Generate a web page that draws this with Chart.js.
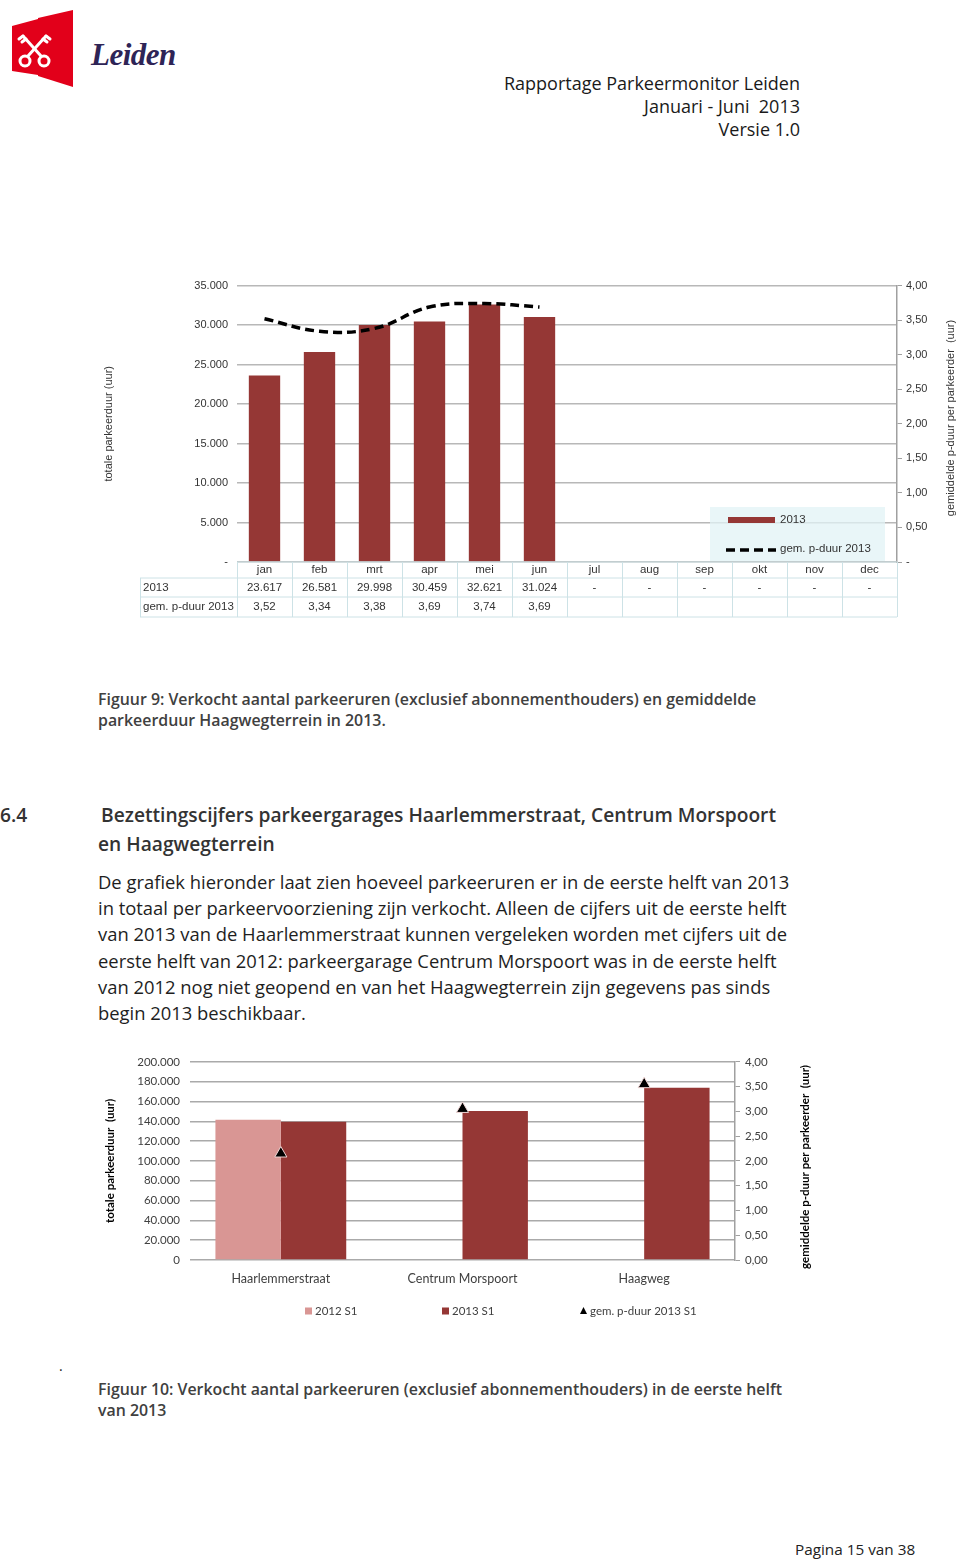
<!DOCTYPE html>
<html lang="nl">
<head>
<meta charset="utf-8">
<title>Rapportage Parkeermonitor Leiden</title>
<script src="https://cdn.jsdelivr.net/npm/chart.js@4.4.1/dist/chart.umd.min.js"></script>
<style>
  html, body { margin: 0; padding: 0; background: #fff; }
  body { width: 960px; height: 1560px; position: relative; overflow: hidden; font-family: "Open Sans", sans-serif; color: #222; }
  .abs { position: absolute; white-space: nowrap; }
  .header { right: 160px; text-align: right; font-size: 18px; line-height: 23px; top: 72px; color: #1a1a1a; }
  .caption { left: 98px; font-size: 15.9px; line-height: 21px; font-weight: 600; color: #404040; }
  .heading { font-size: 19.2px; font-weight: 600; color: #333; }
  .para { left: 98px; top: 869px; font-size: 18.4px; line-height: 26.2px; color: #1e1e1e; }
  #wrap1 { position: absolute; left: 100px; top: 270px; width: 860px; height: 355px; }
  #wrap2 { position: absolute; left: 95px; top: 1045px; width: 730px; height: 285px; }
</style>
</head>
<body>

<svg class="abs" style="left:0;top:0" width="190" height="95">
  <polygon points="12,26 38,19 38,75 12,71" fill="#e2001a"/>
  <polygon points="38,18 73,10 73,87 38,76" fill="#e2001a"/>
  <g stroke="#fff" stroke-width="3" fill="none" stroke-linecap="round">
    <line x1="28" y1="56" x2="46" y2="36"/>
    <line x1="41" y1="56" x2="23" y2="36"/>
    <circle cx="25" cy="61" r="5"/>
    <circle cx="44" cy="61" r="5"/>
    <line x1="46" y1="36" x2="50" y2="39"/>
    <line x1="43" y1="39" x2="47" y2="42"/>
    <line x1="23" y1="36" x2="19" y2="39"/>
    <line x1="26" y1="39" x2="22" y2="42"/>
  </g>
  <text x="91" y="65" font-family="Liberation Serif" font-style="italic" font-weight="bold" font-size="31" letter-spacing="-0.5" fill="#2e2456">Leiden</text>
</svg>

<div class="abs header">Rapportage Parkeermonitor Leiden<br>Januari - Juni&nbsp; 2013<br>Versie 1.0</div>

<div id="wrap1"><canvas id="chart1"></canvas></div>

<div class="abs caption" style="top:689px">Figuur 9: Verkocht aantal parkeeruren (exclusief abonnementhouders) en gemiddelde<br>parkeerduur Haagwegterrein in 2013.</div>

<div class="abs heading" style="left:0;top:801px">6.4</div>
<div class="abs heading" style="left:101px;top:801px">Bezettingscijfers parkeergarages Haarlemmerstraat, Centrum Morspoort</div>
<div class="abs heading" style="left:98px;top:830px">en Haagwegterrein</div>

<div class="abs para">De grafiek hieronder laat zien hoeveel parkeeruren er in de eerste helft van 2013<br>in totaal per parkeervoorziening zijn verkocht. Alleen de cijfers uit de eerste helft<br>van 2013 van de Haarlemmerstraat kunnen vergeleken worden met cijfers uit de<br>eerste helft van 2012: parkeergarage Centrum Morspoort was in de eerste helft<br>van 2012 nog niet geopend en van het Haagwegterrein zijn gegevens pas sinds<br>begin 2013 beschikbaar.</div>

<div id="wrap2"><canvas id="chart2"></canvas></div>

<div class="abs" style="left:59px;top:1356px;font-size:14px;">.</div>
<div class="abs caption" style="top:1379px">Figuur 10: Verkocht aantal parkeeruren (exclusief abonnementhouders) in de eerste helft<br>van 2013</div>

<div class="abs" style="left:795px;top:1539px;font-size:15.3px;color:#222;">Pagina 15 van 38</div>

<script>
// Figuur 9 - Haagwegterrein per maand
const maanden = ['jan', 'feb', 'mrt', 'apr', 'mei', 'jun', 'jul', 'aug', 'sep', 'okt', 'nov', 'dec'];
const uren2013 = [23617, 26581, 29998, 30459, 32621, 31024, null, null, null, null, null, null];
const pduur2013 = [3.52, 3.34, 3.38, 3.69, 3.74, 3.69, null, null, null, null, null, null];
const urenTicks1 = ['-', '5.000', '10.000', '15.000', '20.000', '25.000', '30.000', '35.000'];
const pduurTicks1 = ['-', '0,50', '1,00', '1,50', '2,00', '2,50', '3,00', '3,50', '4,00'];

// Figuur 10 - per parkeervoorziening
const locaties = ['Haarlemmerstraat', 'Centrum Morspoort', 'Haagweg'];
const urenS1_2012 = [141500, null, null];
const urenS1_2013 = [139500, 150500, 174000];
const pduurS1_2013 = [2.15, 3.05, 3.55];
const urenTicks2 = ['0', '20.000', '40.000', '60.000', '80.000', '100.000', '120.000', '140.000', '160.000', '180.000', '200.000'];
const pduurTicks2 = ['0,00', '0,50', '1,00', '1,50', '2,00', '2,50', '3,00', '3,50', '4,00'];

const RED = '#953735';
const PINK = '#d99694';

function fmtUren(v) {
  return v == null ? '-' : v.toLocaleString('nl-NL');
}
function fmtDuur(v) {
  return v == null ? '' : v.toFixed(2).replace('.', ',');
}

// right axis title reads bottom-to-top, chart.js would rotate it the other way
function drawRotated(ctx, text, x, y, font, color) {
  ctx.save();
  ctx.translate(x, y);
  ctx.rotate(-Math.PI / 2);
  ctx.font = font;
  ctx.fillStyle = color;
  ctx.textAlign = 'center';
  ctx.textBaseline = 'middle';
  ctx.fillText(text, 0, 0);
  ctx.restore();
}

const tablePlugin = {
  id: 'dataTable',
  afterDraw(chart) {
    const ctx = chart.ctx;
    const area = chart.chartArea;
    const xs = chart.scales.x;
    const colW = (area.right - area.left) / maanden.length;
    const headL = 40;
    const y0 = area.bottom, y1 = y0 + 16, y2 = y1 + 19, y3 = y2 + 20;

    ctx.save();
    ctx.strokeStyle = '#cde2e6';
    ctx.lineWidth = 1;
    ctx.beginPath();
    ctx.moveTo(area.left, y0); ctx.lineTo(area.right, y0);
    [y1, y2, y3].forEach(y => { ctx.moveTo(headL, y); ctx.lineTo(area.right, y); });
    for (let i = 0; i <= maanden.length; i++) {
      const x = Math.round(area.left + i * colW) + 0.5;
      ctx.moveTo(x, y0); ctx.lineTo(x, y3);
    }
    ctx.moveTo(headL + 0.5, y1); ctx.lineTo(headL + 0.5, y3);
    ctx.stroke();

    ctx.fillStyle = '#333';
    ctx.font = '11.5px "Liberation Sans", Arial, sans-serif';
    ctx.textBaseline = 'middle';
    ctx.textAlign = 'left';
    ctx.fillText(chart.data.datasets[0].label, headL + 3, (y1 + y2) / 2);
    ctx.fillText(chart.data.datasets[1].label, headL + 3, (y2 + y3) / 2);
    ctx.textAlign = 'center';
    maanden.forEach((m, i) => {
      const cx = xs.getPixelForValue(i);
      ctx.fillText(m, cx, (y0 + y1) / 2);
      ctx.fillText(fmtUren(uren2013[i]), cx, (y1 + y2) / 2);
      ctx.fillText(fmtDuur(pduur2013[i]), cx, (y2 + y3) / 2);
    });

    // legend box inside the plot
    const bx = 610, by = area.bottom - 55;
    ctx.fillStyle = 'rgba(226, 243, 246, 0.75)';
    ctx.fillRect(bx, by, 175, 54);
    const bars = chart.data.datasets[0];
    const line = chart.data.datasets[1];
    ctx.fillStyle = bars.backgroundColor;
    ctx.fillRect(bx + 18, by + 10, 47, 6);
    ctx.strokeStyle = line.borderColor;
    ctx.lineWidth = 3.5;
    ctx.setLineDash(line.borderDash);
    ctx.beginPath();
    ctx.moveTo(bx + 16, by + 43); ctx.lineTo(bx + 66, by + 43);
    ctx.stroke();
    ctx.setLineDash([]);
    ctx.fillStyle = '#333';
    ctx.textAlign = 'left';
    ctx.fillText(bars.label, bx + 70, by + 13);
    ctx.fillText(line.label, bx + 70, by + 42);

    drawRotated(ctx, 'gemiddelde p-duur per parkeerder  (uur)', 851, 148,
      '11px "Liberation Sans", Arial, sans-serif', '#333');
    ctx.restore();
  }
};

new Chart(document.getElementById('chart1'), {
  type: 'bar',
  data: {
    labels: maanden,
    datasets: [
      {
        type: 'bar',
        label: '2013',
        data: uren2013,
        backgroundColor: RED,
        barPercentage: 0.57,
        categoryPercentage: 1,
        yAxisID: 'y',
        order: 2
      },
      {
        type: 'line',
        label: 'gem. p-duur 2013',
        data: pduur2013,
        borderColor: '#000',
        borderWidth: 3.5,
        borderDash: [9, 5],
        tension: 0.4,
        pointRadius: 0,
        fill: false,
        yAxisID: 'y1',
        order: 1
      }
    ]
  },
  options: {
    responsive: true,
    maintainAspectRatio: false,
    animation: false,
    layout: { padding: { top: 9, bottom: 63 } },
    plugins: { legend: { display: false }, tooltip: { enabled: false } },
    scales: {
      x: { display: false },
      y: {
        position: 'left',
        min: 0, max: 35000,
        afterFit: s => { s.width = 137; },
        ticks: {
          stepSize: 5000, padding: 9, color: '#333',
          font: { family: '"Liberation Sans", Arial, sans-serif', size: 11 },
          callback: (v, i) => urenTicks1[i]
        },
        grid: { color: '#b8b8b8', lineWidth: 1.5, drawTicks: false },
        border: { display: false },
        title: {
          display: true, text: 'totale parkeerduur (uur)', color: '#333',
          padding: { top: 2, bottom: 0 },
          font: { family: '"Liberation Sans", Arial, sans-serif', size: 11 }
        }
      },
      y1: {
        position: 'right',
        min: 0, max: 4,
        afterFit: s => { s.width = 63; },
        ticks: {
          stepSize: 0.5, padding: 4, color: '#333',
          font: { family: '"Liberation Sans", Arial, sans-serif', size: 11 },
          callback: (v, i) => pduurTicks1[i]
        },
        grid: { drawOnChartArea: false, drawTicks: true, tickLength: 5, color: '#a0a0a0' },
        border: { display: true, color: '#a0a0a0', width: 1.5 }
      }
    }
  },
  plugins: [tablePlugin]
});

// legend for figure 10: fixed slots below the axis, like the Excel original
const legendX2 = [210, 347, 485];
const legend2 = {
  id: 'legend2',
  afterDraw(chart) {
    const ctx = chart.ctx;
    const y = 266;
    ctx.save();
    ctx.font = '11.5px Lato, sans-serif';
    ctx.textBaseline = 'middle';
    ctx.textAlign = 'left';
    chart.data.datasets.forEach((ds, i) => {
      const x = legendX2[i];
      if (ds.pointStyle === 'triangle') {
        ctx.fillStyle = ds.backgroundColor;
        ctx.beginPath();
        ctx.moveTo(x + 3.5, y - 4); ctx.lineTo(x + 7, y + 3); ctx.lineTo(x, y + 3);
        ctx.closePath();
        ctx.fill();
      } else {
        ctx.fillStyle = ds.backgroundColor;
        ctx.fillRect(x, y - 3.5, 7, 7);
      }
      ctx.fillStyle = '#404040';
      ctx.fillText(ds.label, x + 10, y);
    });
    ctx.restore();
    drawRotated(ctx, 'gemiddelde p-duur per parkeerder  (uur)', 710, 122,
      'bold 11.5px Lato, sans-serif', '#000');
  }
};

new Chart(document.getElementById('chart2'), {
  type: 'bar',
  data: {
    labels: locaties,
    datasets: [
      {
        label: '2012 S1',
        data: urenS1_2012,
        backgroundColor: PINK,
        pointStyle: 'rect',
        categoryPercentage: 0.72,
        barPercentage: 1,
        yAxisID: 'y',
        order: 2
      },
      {
        label: '2013 S1',
        data: urenS1_2013,
        backgroundColor: RED,
        pointStyle: 'rect',
        categoryPercentage: 0.72,
        barPercentage: 1,
        yAxisID: 'y',
        order: 2
      },
      {
        type: 'line',
        label: 'gem. p-duur 2013 S1',
        data: pduurS1_2013,
        showLine: false,
        pointStyle: 'triangle',
        pointRadius: 7,
        backgroundColor: '#000',
        borderColor: '#f0d6d5',
        borderWidth: 1,
        yAxisID: 'y1',
        order: 1
      }
    ]
  },
  options: {
    responsive: true,
    maintainAspectRatio: false,
    animation: false,
    layout: { padding: { top: 1, bottom: 41 } },
    plugins: {
      tooltip: { enabled: false },
      legend: { display: false }
    },
    scales: {
      x: {
        grid: { display: false },
        border: { display: false },
        ticks: { padding: 3, color: '#404040', font: { family: 'Lato, sans-serif', size: 12.5 } }
      },
      y: {
        position: 'left',
        min: 0, max: 200000,
        afterFit: s => { s.width = 95; },
        ticks: {
          stepSize: 20000, padding: 10, color: '#404040',
          font: { family: 'Lato, sans-serif', size: 11.5 },
          callback: (v, i) => urenTicks2[i]
        },
        grid: { color: '#aaaaaa', lineWidth: 1.5, drawTicks: false },
        border: { display: false },
        title: {
          display: true, text: 'totale parkeerduur  (uur)', color: '#000',
          padding: { top: 8, bottom: 0 },
          font: { family: 'Lato, sans-serif', size: 11.5, weight: 'bold' }
        }
      },
      y1: {
        position: 'right',
        min: 0, max: 4,
        afterFit: s => { s.width = 90; },
        ticks: {
          stepSize: 0.5, padding: 5, color: '#404040',
          font: { family: 'Lato, sans-serif', size: 11.5 },
          callback: (v, i) => pduurTicks2[i]
        },
        grid: { drawOnChartArea: false, drawTicks: true, tickLength: 5, color: '#a0a0a0' },
        border: { display: true, color: '#a0a0a0', width: 1.5 }
      }
    }
  },
  plugins: [legend2]
});
</script>
</body>
</html>
